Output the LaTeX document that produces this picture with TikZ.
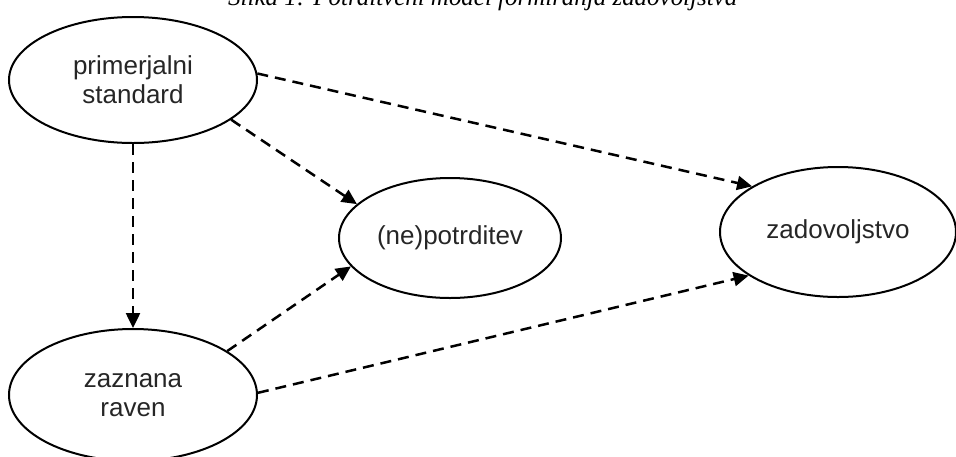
\documentclass[tikz,border=0pt]{standalone}
\usepackage{fontspec}
\setmainfont{Liberation Sans}
\newfontfamily\titlefont{Liberation Serif}
\usetikzlibrary{shapes.geometric,arrows.meta}
\tikzset{
  ell/.style={draw, ellipse, line width=2pt, inner sep=0pt, align=center,
    font=\fontsize{26}{29}\selectfont, text=black!85},
  dasharrow/.style={line width=2.5pt, dash pattern=on 11pt off 7pt,
    -{Triangle[length=15pt,width=14pt]}}
}
\begin{document}
\begin{tikzpicture}[x=1pt,y=-1pt]
\useasboundingbox (0,0) rectangle (956,456);
\clip (0,0) rectangle (956,456);
\node[anchor=base west, inner sep=0pt] (title) at (228,5)
  {\resizebox{509pt}{!}{\titlefont\itshape Slika 1: Potrditveni model formiranja zadovoljstva}};
\node[ell, minimum width=248pt, minimum height=126pt] (p) at (133,80) {primerjalni\\standard};
\node[ell, minimum width=248pt, minimum height=132pt] (r) at (133,395) {zaznana\\raven};
\node[ell, minimum width=222pt, minimum height=120pt] (n) at (450,238) {(ne)potrditev};
\node[ell, minimum width=236pt, minimum height=130pt] (z) at (838,232) {zadovoljstvo};
\draw[dasharrow] (p.3.7) -- (z.152.4);
\draw[dasharrow] (p.-22.4) -- (n.160.2);
\draw[dasharrow] (p.-90) -- (r.90);
\draw[dasharrow] (r.25.6) -- (n.196.6);
\draw[dasharrow] (r.1) -- (z.206.8);
\end{tikzpicture}
\end{document}
